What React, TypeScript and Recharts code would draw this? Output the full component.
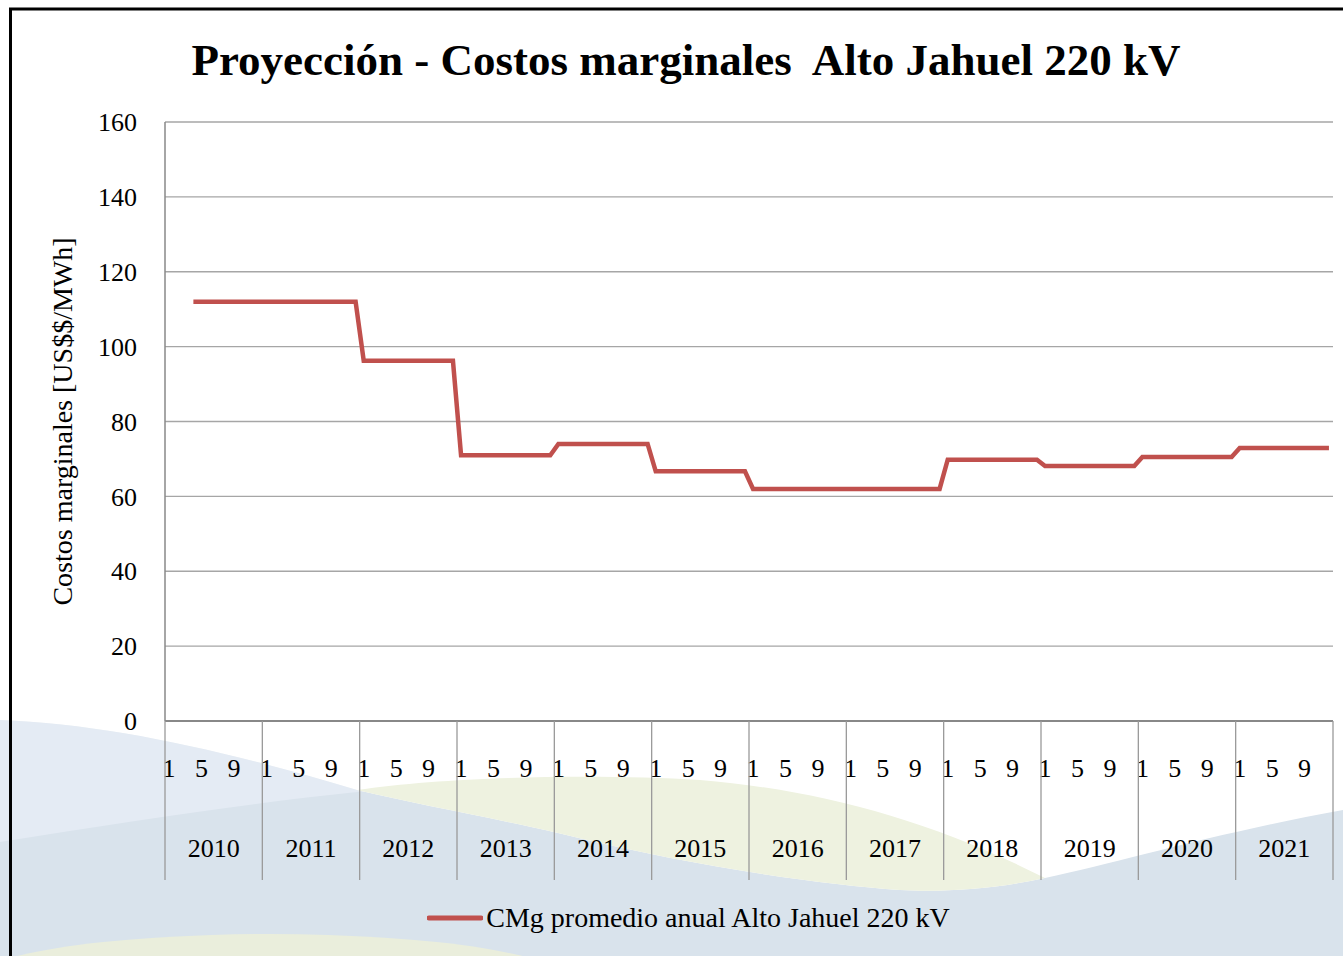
import { LineChart, Line, XAxis, YAxis, CartesianGrid, Legend, Label } from 'recharts';

const W = 1343;
const H = 956;
const FONT = '"Liberation Serif", "DejaVu Serif", serif';

// años y meses del eje X
const years = [2010, 2011, 2012, 2013, 2014, 2015, 2016, 2017, 2018, 2019, 2020, 2021];
const months = [1, 2, 3, 4, 5, 6, 7, 8, 9, 10, 11, 12];
const monthTicks = [1, 5, 9];
const yTicks = [0, 20, 40, 60, 80, 100, 120, 140, 160];

// CMg promedio anual [US$/MWh], la serie parte en abril 2010
const firstMonth2010 = 4;
const annualCMg = [112, 112, 96.2, 71, 74, 66.7, 62, 62, 69.8, 68.1, 70.5, 72.9];

const SERIES_NAME = 'CMg promedio anual Alto Jahuel 220 kV';

const data = years.flatMap((year, yi) =>
  months.map((month) => ({
    key: `${year}-${month}`,
    year,
    month,
    cmg: yi === 0 && month < firstMonth2010 ? null : annualCMg[yi],
  }))
);

const PLOT_LEFT = 165;
const PLOT_RIGHT = 10;
const BAND = (W - PLOT_LEFT - PLOT_RIGHT) / data.length;
const X_AXIS_H = 159;

const MonthYearTick = (props: any) => {
  const { x, y, payload, index } = props;
  const i = payload?.index ?? index;
  const d = data[i];
  if (!d) return null;
  const half = BAND / 2;
  return (
    <g>
      {monthTicks.includes(d.month) && (
        <text x={x} y={y + 56} textAnchor="middle" fontSize={26} fontFamily={FONT} fill="#000">
          {d.month}
        </text>
      )}
      {d.month === 6 && (
        <text x={x + half} y={y + 136} textAnchor="middle" fontSize={26} fontFamily={FONT} fill="#000">
          {d.year}
        </text>
      )}
      {d.month === 1 && (
        <line x1={x - half} x2={x - half} y1={y} y2={y + X_AXIS_H} stroke="#9a9a9a" strokeWidth={1.3} />
      )}
      {i === data.length - 1 && (
        <line x1={x + half} x2={x + half} y1={y} y2={y + X_AXIS_H} stroke="#9a9a9a" strokeWidth={1.3} />
      )}
    </g>
  );
};

const LegendContent = () => (
  <div style={{ display: 'flex', justifyContent: 'center', alignItems: 'center', fontFamily: FONT }}>
    <svg width={56} height={12} style={{ marginRight: 3 }}>
      <line x1={2} x2={54} y1={6} y2={6} stroke="#c0504d" strokeWidth={5} strokeLinecap="round" />
    </svg>
    <span style={{ fontSize: 28, color: '#000', lineHeight: '32px' }}>{SERIES_NAME}</span>
  </div>
);

const Background = () => (
  <svg width={W} height={H} style={{ position: 'absolute', left: 0, top: 0 }}>
    <rect x={0} y={0} width={W} height={H} fill="#d9e3ec" />
    <path d="M0,720 C110,724 230,752 357,790 L400,788 C300,796 150,818 0,842 Z" fill="#e4ebf4" />
    <path
      d="M0,0 L1343,0 L1343,810 C1220,832 1120,862 1045,878 C990,890 940,892 900,890 C820,884 700,868 558,833 C480,815 420,805 357,790 C230,752 110,724 0,720 Z"
      fill="#ffffff"
    />
    <path
      d="M357,790 C450,776 600,774 700,780 C820,790 930,820 1045,878 C990,890 940,892 900,890 C820,884 700,868 558,833 C480,815 420,805 357,790 Z"
      fill="#eef2e0"
    />
    <ellipse cx={270} cy={982} rx={300} ry={48} fill="#eaeedc" />
    <rect x={10.5} y={9} width={2000} height={2000} fill="none" stroke="#000" strokeWidth={3} />
    <text
      x={686}
      y={75}
      textAnchor="middle"
      fontFamily={FONT}
      fontWeight="bold"
      fontSize={45}
      fill="#000"
      style={{ whiteSpace: 'pre' }}
    >
      Proyección - Costos marginales  Alto Jahuel 220 kV
    </text>
  </svg>
);

export default function App() {
  return (
    <div style={{ position: 'absolute', left: 0, top: 0, width: W, height: H, overflow: 'hidden', background: '#fff' }}>
      <Background />
      <div style={{ position: 'absolute', left: 0, top: 0 }}>
        <LineChart
          width={W}
          height={H}
          data={data}
          margin={{ top: 122, right: PLOT_RIGHT, bottom: H - 721 - X_AXIS_H, left: 0 }}
        >
          <CartesianGrid vertical={false} stroke="#a6a6a6" strokeWidth={1.3} />
          <XAxis
            dataKey="key"
            scale="band"
            interval={0}
            height={X_AXIS_H}
            tickSize={0}
            tickMargin={0}
            tickLine={false}
            axisLine={{ stroke: '#888', strokeWidth: 2 }}
            tick={<MonthYearTick />}
          />
          <YAxis
            domain={[0, 160]}
            ticks={yTicks}
            width={PLOT_LEFT}
            tickSize={0}
            tickMargin={28}
            tickLine={false}
            axisLine={{ stroke: '#888', strokeWidth: 1.5 }}
            tick={{ fontSize: 26, fontFamily: FONT, fill: '#000' }}
          >
            <Label
              content={(p: any) => {
                const vb = p.viewBox;
                const cx = vb.x + 62;
                const cy = vb.y + vb.height / 2;
                return (
                  <text
                    x={cx}
                    y={cy}
                    transform={`rotate(-90 ${cx} ${cy})`}
                    textAnchor="middle"
                    dominantBaseline="central"
                    fontSize={28}
                    fontFamily={FONT}
                    fill="#000"
                  >
                    Costos marginales [US$$/MWh]
                  </text>
                );
              }}
            />
          </YAxis>
          <Legend
            content={<LegendContent />}
            wrapperStyle={{ top: 902, bottom: 'auto', left: 0, width: 1377, height: 0 }}
          />
          <Line
            type="linear"
            dataKey="cmg"
            name={SERIES_NAME}
            stroke="#c0504d"
            strokeWidth={4.5}
            dot={false}
            isAnimationActive={false}
          />
        </LineChart>
      </div>
    </div>
  );
}
